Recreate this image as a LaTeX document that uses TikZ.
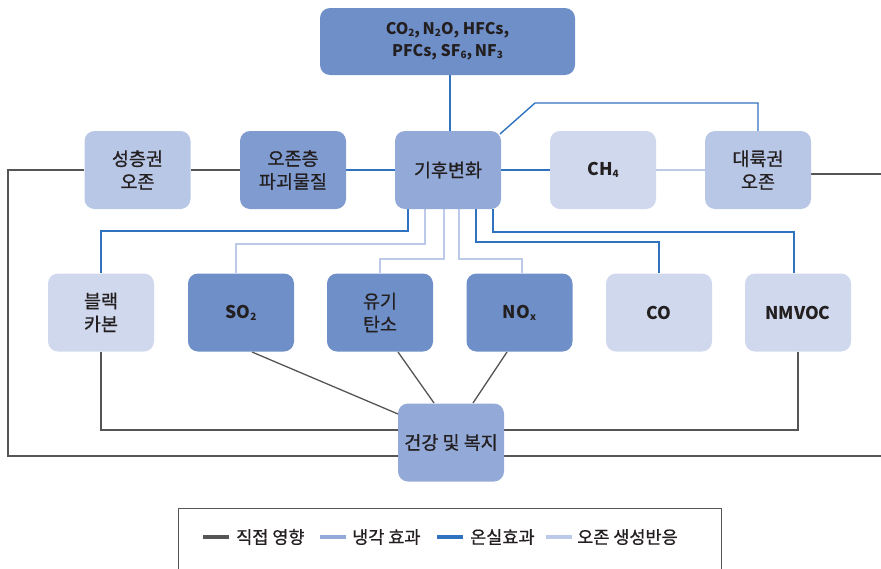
\documentclass[tikz,border=0pt]{standalone}
\usepackage{fontspec}
\setmainfont{Noto Sans CJK KR}[UprightFeatures={RawFeature={embolden=0.8}}]
\usetikzlibrary{backgrounds}
\definecolor{bxdark}{HTML}{6F8FC8}
\definecolor{bxods}{HTML}{7F9BD0}
\definecolor{bxmid}{HTML}{93A9D7}
\definecolor{bxlight}{HTML}{B9C7E6}
\definecolor{bxpale}{HTML}{CFD8ED}
\definecolor{lnblue}{HTML}{2F72C0}
\definecolor{lngray}{HTML}{555555}
\definecolor{lncool}{HTML}{93A9D7}
\definecolor{lnozone}{HTML}{BCC9E9}
\definecolor{txt}{HTML}{231F20}
\newcommand{\chsub}[1]{\raisebox{-0.12em}{\fontsize{10}{10}\selectfont #1}}
\tikzset{
  box/.style={rounded corners=10pt, minimum width=106pt, minimum height=78pt, inner sep=0pt,
    align=center, text=txt, font=\fontsize{18.5}{23}\selectfont},
  lbl/.style={font=\fontsize{17.5}{23}\selectfont\bfseries},
  glink/.style={draw=lngray, line width=1.3pt},
  blink/.style={draw=lnblue, line width=1.4pt},
  olink/.style={draw=lnozone, line width=1.6pt},
  legtxt/.style={anchor=west, text=txt, font=\fontsize{17.5}{20}\selectfont, inner sep=0pt},
}
\begin{document}
\begin{tikzpicture}[x=1pt,y=-1pt]
\useasboundingbox (0,0) rectangle (881,568);
% nodes
\node[box, fill=bxdark, minimum width=255pt, minimum height=67pt, text=txt,
  font=\fontsize{16}{22}\selectfont\bfseries] (ghg) at (447.5,41.5)
  {CO\chsub{2},\hspace{-1pt} N\chsub{2}O, HFCs,\\PFCs, SF\chsub{6},\hspace{-1pt} NF\chsub{3}};
\node[box, fill=bxlight] (strat) at (137.5,170) {성층권\\오존};
\node[box, fill=bxods] (ods) at (293,170) {오존층\\파괴물질};
\node[box, fill=bxmid] (clim) at (448,170) {기후변화};
\node[box, fill=bxpale, lbl] (ch4) at (603,170) {CH\chsub{4}};
\node[box, fill=bxlight] (trop) at (758,170) {대륙권\\오존};
\node[box, fill=bxpale] (bc) at (101,312.5) {블랙\\카본};
\node[box, fill=bxdark, lbl] (so2) at (241,312.5) {SO\chsub{2}};
\node[box, fill=bxdark] (oc) at (380,312.5) {유기\\탄소};
\node[box, fill=bxdark, lbl] (nox) at (519.5,312.5) {NO\chsub{x}};
\node[box, fill=bxpale, lbl] (co) at (659,312.5) {CO};
\node[box, fill=bxpale, lbl] (nmvoc) at (798,312.5) {NMVOC};
\node[box, fill=bxmid] (health) at (451,442.5) {건강 및 복지};
% coordinates
\coordinate (lt) at (8,170);
\coordinate (lb) at (8,456);
\coordinate (rb) at (881,456);
\coordinate (rt) at (881,174);
\coordinate (tr) at (811,174);
\coordinate (c1) at (500,134);
\coordinate (c2) at (535,103);
\coordinate (c3) at (758,103);
\begin{scope}[on background layer]
% gray direct
\draw[glink] (strat.west) -- (lt) -- (lb) -- (rb);
\draw[glink] (tr) -- (rt);
\draw[glink] (strat.east) -- (ods.west);
\draw[glink] (bc.south) -- (101,430) -- (health.west |- 0,430);
\draw[glink] (nmvoc.south) -- (798,430) -- (health.east |- 0,430);
\draw[glink] (252,352) -- (398,414);
\draw[glink] (398,352) -- (434,403);
\draw[glink] (507,352) -- (473,403);
% blue greenhouse
\draw[blink] (ghg.south -| 450,0) -- (450,131);
\draw[blink] (ods.east) -- (clim.west);
\draw[blink] (clim.east) -- (ch4.west);
\draw[blink] (c1) -- (c2) -- (c3) -- (trop.north);
\draw[blink] (408,209) -- (408,231) -- (101,231) -- (bc.north);
\draw[blink] (476,209) -- (476,242) -- (659,242) -- (co.north);
\draw[blink] (493,209) -- (493,232) -- (794,232) -- (794,273);
% light ozone
\draw[olink] (425,209) -- (425,244) -- (236,244) -- (236,273);
\draw[olink] (444,209) -- (444,259) -- (380,259) -- (oc.north);
\draw[olink] (459,209) -- (459,259) -- (522,259) -- (522,273);
\draw[olink] (ch4.east) -- (trop.west);
\end{scope}
% legend
\node[draw=lngray, line width=0.8pt, minimum width=543pt, minimum height=80pt, anchor=north west, inner sep=0pt] (leg) at (178,508) {};
\coordinate (g1) at (203,537); \coordinate (g2) at (229,537);
\coordinate (k1) at (320,537); \coordinate (k2) at (346,537);
\coordinate (b1) at (437,537); \coordinate (b2) at (463,537);
\coordinate (o1) at (546,537); \coordinate (o2) at (572,537);
\draw[lngray, line width=4pt] (g1) -- (g2);
\draw[lncool, line width=4pt] (k1) -- (k2);
\draw[lnblue, line width=4pt] (b1) -- (b2);
\draw[lnozone, line width=4pt] (o1) -- (o2);
\node[legtxt] (t1) at (236,537) {직접 영향};
\node[legtxt] (t2) at (352,537) {냉각 효과};
\node[legtxt] (t3) at (470,537) {온실효과};
\node[legtxt] (t4) at (577,537) {오존 생성반응};
\end{tikzpicture}
\end{document}
